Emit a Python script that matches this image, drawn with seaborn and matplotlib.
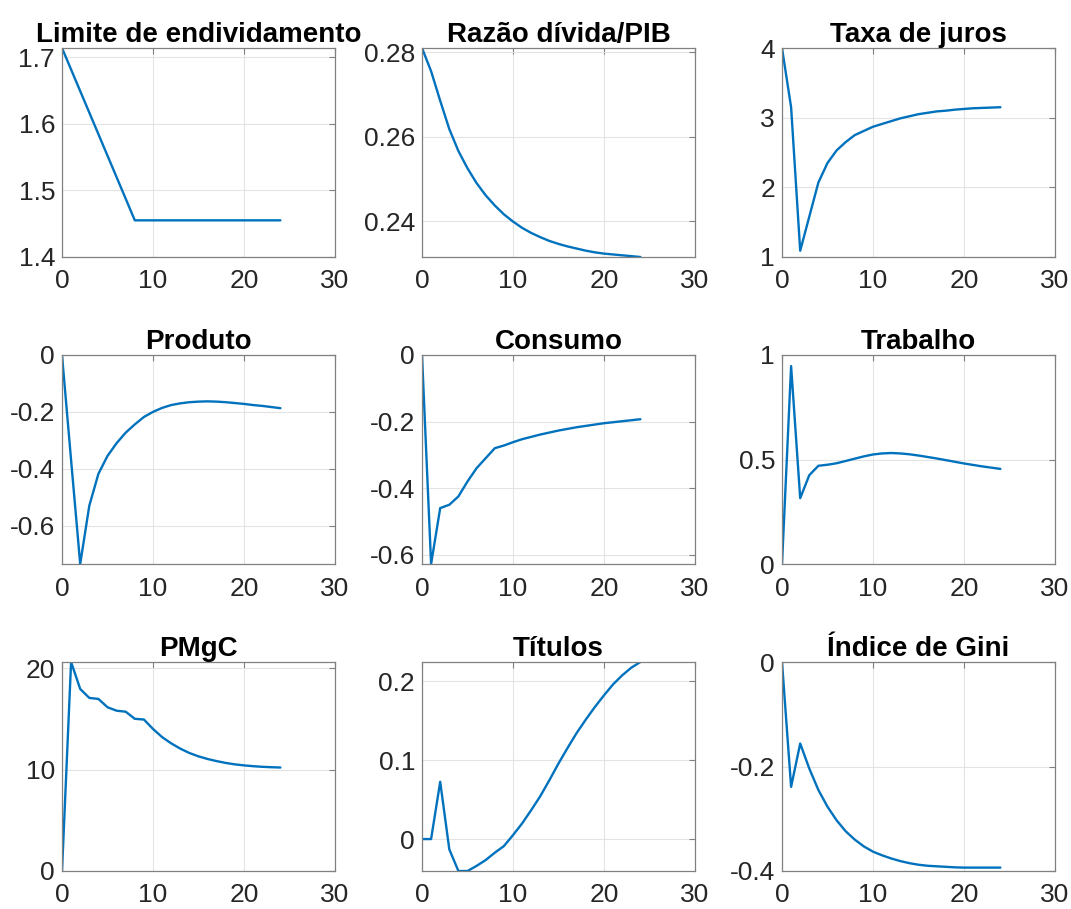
import numpy as np
import seaborn as sns
import matplotlib.pyplot as plt

# Impulse responses, periods 0..24
periods = list(range(25))

limite = [1.7135, 1.6812, 1.6489, 1.6166, 1.5843, 1.5520, 1.5197, 1.4874, 1.4550,
          1.4550, 1.4550, 1.4550, 1.4550, 1.4550, 1.4550, 1.4550, 1.4550, 1.4550,
          1.4550, 1.4550, 1.4550, 1.4550, 1.4550, 1.4550, 1.4550]
divida_pib = [0.2810, 0.2755, 0.2685, 0.2618, 0.2566, 0.2525, 0.2490, 0.2461, 0.2437,
              0.2416, 0.2399, 0.2384, 0.2372, 0.2362, 0.2353, 0.2346, 0.2340, 0.2335,
              0.2330, 0.2326, 0.2323, 0.2321, 0.2319, 0.2317, 0.2315]
juros = [4.00, 3.15, 1.09, 1.58, 2.07, 2.35, 2.53, 2.65, 2.75, 2.81, 2.87, 2.91, 2.95,
         2.99, 3.02, 3.05, 3.07, 3.09, 3.10, 3.115, 3.125, 3.135, 3.14, 3.145, 3.15]
produto = [0.0, -0.37, -0.735, -0.53, -0.418, -0.355, -0.31, -0.273, -0.244, -0.218,
           -0.20, -0.186, -0.176, -0.170, -0.166, -0.164, -0.163, -0.164, -0.166,
           -0.169, -0.172, -0.176, -0.179, -0.183, -0.187]
consumo = [0.0, -0.628, -0.46, -0.45, -0.425, -0.38, -0.34, -0.31, -0.28, -0.272,
           -0.262, -0.253, -0.246, -0.239, -0.233, -0.227, -0.222, -0.217, -0.213,
           -0.209, -0.205, -0.202, -0.199, -0.196, -0.193]
trabalho = [0.0, 0.947, 0.315, 0.425, 0.47, 0.475, 0.482, 0.493, 0.504, 0.515, 0.524,
            0.529, 0.531, 0.529, 0.525, 0.519, 0.512, 0.505, 0.497, 0.489, 0.481,
            0.474, 0.467, 0.461, 0.455]
pmgc = [0.0, 20.6, 17.94, 17.06, 16.96, 16.14, 15.8, 15.7, 15.0, 14.93, 14.0, 13.2,
        12.58, 12.06, 11.63, 11.3, 11.04, 10.83, 10.65, 10.51, 10.41, 10.33, 10.27,
        10.23, 10.2]
titulos = [0.0, 0.0, 0.0726, -0.013, -0.0405, -0.0405, -0.034, -0.0266, -0.0173,
           -0.0089, 0.005, 0.0198, 0.0367, 0.0544, 0.0747, 0.0958, 0.1156, 0.1346,
           0.1515, 0.1675, 0.1823, 0.1962, 0.2076, 0.2173, 0.2245]
gini = [0.0, -0.239, -0.156, -0.204, -0.245, -0.277, -0.303, -0.324, -0.340, -0.353,
        -0.363, -0.370, -0.376, -0.381, -0.385, -0.388, -0.390, -0.391, -0.392,
        -0.393, -0.3935, -0.3935, -0.3935, -0.3935, -0.3935]

titles = ["Limite de endividamento", "Razão dívida/PIB", "Taxa de juros",
          "Produto", "Consumo", "Trabalho",
          "PMgC", "Títulos", "Índice de Gini"]
series = [limite, divida_pib, juros, produto, consumo, trabalho, pmgc, titulos, gini]
yticks = [[1.4, 1.5, 1.6, 1.7], [0.24, 0.26, 0.28], [1, 2, 3, 4],
          [-0.6, -0.4, -0.2, 0], [-0.6, -0.4, -0.2, 0], [0, 0.5, 1],
          [0, 10, 20], [0, 0.1, 0.2], [-0.4, -0.2, 0]]
ylims = [(1.4, 1.7135), (0.2315, 0.281), (1, 4),
         (-0.735, 0), (-0.628, 0), (0, 1),
         (0, 20.6), (-0.0405, 0.2245), (-0.4, 0)]

sns.set_theme(style="whitegrid")
plt.rcParams['font.family'] = ['Liberation Sans', 'DejaVu Sans']
plt.rcParams['axes.unicode_minus'] = False

fig = plt.figure(figsize=(10.71, 9.09), dpi=100)
W, H = 1071, 909
lefts = [62, 422, 782]
tops = [48, 355, 662]
aw, ah = 273, 209

for i, (title, y) in enumerate(zip(titles, series)):
    r, c = divmod(i, 3)
    ax = fig.add_axes([lefts[c] / W, 1 - (tops[r] + ah) / H, aw / W, ah / H])
    sns.lineplot(x=periods, y=y, ax=ax, color="#0072BD", linewidth=1.7)
    ax.set_xlim(0, 30)
    ax.set_ylim(*ylims[i])
    ax.set_xticks([0, 10, 20, 30])
    ax.set_yticks(yticks[i])
    ax.set_yticklabels([f"{v:g}" for v in yticks[i]])
    ax.set_facecolor("white")
    ax.grid(True, color="#e3e3e3", linewidth=0.8)
    for sp in ax.spines.values():
        sp.set_color("#808080")
        sp.set_linewidth(0.9)
    ax.tick_params(direction="in", top=True, right=True, length=4, width=0.8,
                   color="#808080", labelcolor="#262626", labelsize=19, pad=5)
    ax.tick_params(axis="x", pad=9)
    ax.set_title(title, fontsize=20, fontweight="bold", color="black", pad=4)

fig.savefig("out.png", dpi=100)
